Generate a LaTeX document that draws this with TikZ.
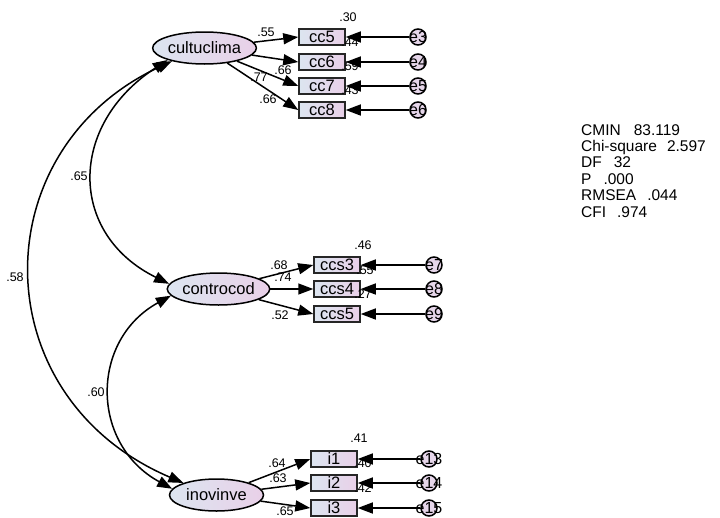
\documentclass[tikz,border=0pt]{standalone}
\usepackage{fontspec}
\setmainfont{Liberation Sans}
\usetikzlibrary{arrows.meta,shapes.geometric}
\definecolor{latL}{RGB}{220,229,240}
\definecolor{latR}{RGB}{233,208,232}
\definecolor{errF}{RGB}{230,214,234}
\begin{document}
\begin{tikzpicture}[x=1pt,y=-1pt,
  lat/.style={ellipse, draw=black, line width=1.5pt, minimum width=94pt, minimum height=32pt, inner sep=0pt, left color=latL, right color=latR, font=\fontsize{16.5}{17}\selectfont},
  obs/.style={rectangle, draw=black!85, line width=1.5pt, minimum width=46pt, minimum height=16pt, inner sep=0pt, left color=latL, right color=latR, font=\fontsize{16.5}{17}\selectfont},
  err/.style={circle, draw=black, line width=1.5pt, minimum size=16pt, inner sep=0pt, fill=errF, font=\fontsize{16}{16}\selectfont},
  lbl/.style={font=\fontsize{12.5}{13}\selectfont, inner sep=0pt},
  arr/.style={line width=1.5pt, -{Triangle[length=15pt,width=11pt]}},
  cov/.style={line width=1.5pt, {Triangle[length=15pt,width=11pt]}-{Triangle[length=15pt,width=11pt]}}
]
\useasboundingbox[fill=white] (0,0) rectangle (720,517);

% latent variables
\node[lat] (cultuclima) at (204.5,48) {cultuclima};
\node[lat] (controcod) at (218.5,289) {controcod};
\node[lat] (inovinve) at (216.5,495) {inovinve};

% observed
\node[obs] (cc5) at (322,37) {cc5};
\node[obs] (cc6) at (322,62) {cc6};
\node[obs] (cc7) at (322,86) {cc7};
\node[obs] (cc8) at (322,110) {cc8};
\node[obs] (ccs3) at (337,265) {ccs3};
\node[obs] (ccs4) at (337,289) {ccs4};
\node[obs] (ccs5) at (337,314) {ccs5};
\node[obs] (i1) at (334,459) {i1};
\node[obs] (i2) at (334,483) {i2};
\node[obs] (i3) at (334,508) {i3};

% errors
\node[err] (e3) at (418,37) {\makebox[0pt]{e3}};
\node[err] (e4) at (418,62) {\makebox[0pt]{e4}};
\node[err] (e5) at (418,86) {\makebox[0pt]{e5}};
\node[err] (e6) at (418,110) {\makebox[0pt]{e6}};
\node[err] (e7) at (434,265) {\makebox[0pt]{e7}};
\node[err] (e8) at (434,289) {\makebox[0pt]{e8}};
\node[err] (e9) at (434,314) {\makebox[0pt]{e9}};
\node[err] (e13) at (429,459) {\makebox[0pt]{e13}};
\node[err] (e14) at (429,483) {\makebox[0pt]{e14}};
\node[err] (e15) at (429,508) {\makebox[0pt]{e15}};

% loadings
\foreach \o in {cc5,cc6,cc7,cc8} \draw[arr] (cultuclima) -- (\o.west);
\foreach \o in {ccs3,ccs4,ccs5} \draw[arr] (controcod) -- (\o.west);
\foreach \o in {i1,i2,i3} \draw[arr] (inovinve) -- (\o.west);

% error arrows
\draw[arr] (e3) -- (cc5.east);
\draw[arr] (e4) -- (cc6.east);
\draw[arr] (e5) -- (cc7.east);
\draw[arr] (e6) -- (cc8.east);
\draw[arr] (e7) -- (ccs3.east);
\draw[arr] (e8) -- (ccs4.east);
\draw[arr] (e9) -- (ccs5.east);
\draw[arr] (e13) -- (i1.east);
\draw[arr] (e14) -- (i2.east);
\draw[arr] (e15) -- (i3.east);

% covariances
\draw[cov] (cultuclima.198) .. controls (68,125) and (68,234) .. (controcod.174);
\draw[cov] (cultuclima.202) .. controls (-18,150) and (-18,397) .. (inovinve.160);
\draw[cov] (controcod.188) .. controls (90,340) and (90,444) .. (inovinve.172);

% labels
\node[lbl] (l1) at (266,32) {.55};
\node[lbl] (l2) at (283,70) {.66};
\node[lbl] (l3) at (259,77) {.77};
\node[lbl] (l4) at (268,99) {.66};
\node[lbl] (r1) at (348,17) {.30};
\node[lbl] (r2) at (350,42) {.44};
\node[lbl] (r3) at (350,66) {.59};
\node[lbl] (r4) at (350,90) {.43};
\node[lbl] (l5) at (279,265) {.68};
\node[lbl] (l6) at (283,277) {.74};
\node[lbl] (l7) at (280,315) {.52};
\node[lbl] (r5) at (363,245) {.46};
\node[lbl] (r6) at (365,270) {.55};
\node[lbl] (r7) at (363,294) {.27};
\node[lbl] (l8) at (277,463) {.64};
\node[lbl] (l9) at (278,478) {.63};
\node[lbl] (l10) at (285,511.5) {.65};
\node[lbl] (r8) at (359,438) {.41};
\node[lbl] (r9) at (363,463) {.40};
\node[lbl] (r10) at (363,488) {.42};
\node[lbl] (c1) at (79,176) {.65};
\node[lbl] (c2) at (15,277) {.58};
\node[lbl] (c3) at (96,392) {.60};

% fit
\node[anchor=north west, align=left, inner sep=0pt, font=\fontsize{15.5}{16.4}\selectfont] (fit) at (581,124)
 {CMIN\hspace{13pt}83.119\\Chi-square\hspace{10pt}2.597\\DF\hspace{12pt}32\\P\hspace{12pt}.000\\RMSEA\hspace{11pt}.044\\CFI\hspace{11pt}.974};
\end{tikzpicture}
\end{document}
